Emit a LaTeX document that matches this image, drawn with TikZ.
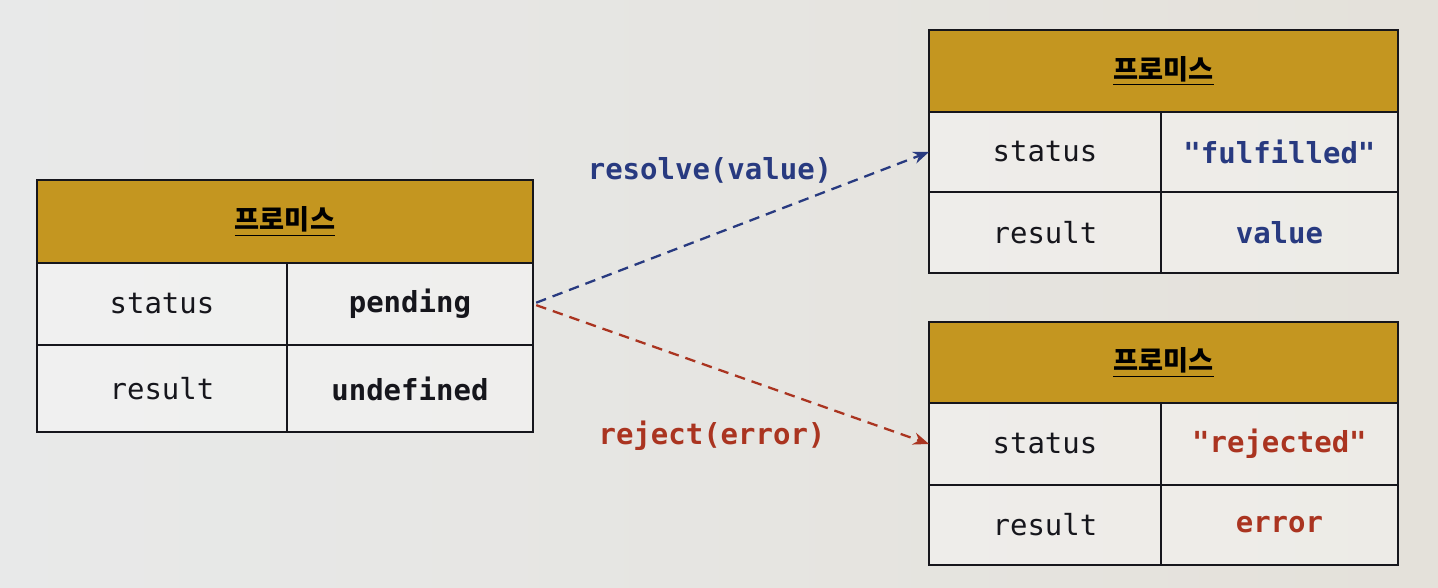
\documentclass[tikz,border=0pt]{standalone}
\usepackage{fontspec}
\setmonofont{DejaVu Sans Mono}
\newfontfamily\kofont{Noto Sans CJK KR}
\usetikzlibrary{arrows.meta, positioning}
\definecolor{paperL}{RGB}{232,233,233}
\definecolor{paperR}{RGB}{228,225,218}
\definecolor{mustard}{RGB}{196,150,32}
\definecolor{inkblue}{RGB}{40,58,128}
\definecolor{inkred}{RGB}{170,52,32}
\definecolor{ink}{RGB}{22,22,28}

\begin{document}
\begin{tikzpicture}[
  x=0.02cm, y=-0.02cm,
  node distance = 0pt,
  head/.style = {
    draw=ink, line width=1.6pt, fill=mustard, inner sep=0pt, outer sep=0pt,
    font=\kofont\bfseries\fontsize{15.5}{17}\selectfont
  },
  cell/.style = {
    draw=ink, line width=1.6pt, fill=white, fill opacity=0.35, text opacity=1,
    inner sep=0pt, outer sep=0pt, text=ink, font=\ttfamily\fontsize{16.5}{18}\selectfont
  },
  val/.style = { cell, font=\ttfamily\bfseries\fontsize{16.5}{18}\selectfont },
  lbl/.style = { font=\ttfamily\bfseries\fontsize{16.5}{18}\selectfont },
  arr/.style = { -{Stealth[length=9pt, width=7pt]}, line width=1.3pt, dash pattern=on 6pt off 4pt, shorten <=2pt }
]

% page
\shade[left color=paperL, right color=paperR] (0,0) rectangle (1438,588);
\useasboundingbox (0,0) rectangle (1438,588);

% pending promise
\node[head, minimum width=9.92cm, minimum height=1.66cm, anchor=north west] (ph) at (37,180) {\underline{프로미스}};
\node[cell, minimum width=5cm, minimum height=1.64cm, below right=0 of ph.south west] (ps) {status};
\node[val, minimum width=4.92cm, minimum height=1.64cm, right=0 of ps] (pv) {pending};
\node[cell, minimum width=5cm, minimum height=1.74cm, below=0 of ps] (pr) {result};
\node[val, minimum width=4.92cm, minimum height=1.74cm, right=0 of pr] (pu) {undefined};

% fulfilled promise
\node[head, minimum width=9.38cm, minimum height=1.64cm, anchor=north west] (fh) at (929,30) {\underline{프로미스}};
\node[cell, minimum width=4.64cm, minimum height=1.6cm, below right=0 of fh.south west] (fs) {status};
\node[val, minimum width=4.74cm, minimum height=1.6cm, right=0 of fs, text=inkblue] (fv) {"fulfilled"};
\node[cell, minimum width=4.64cm, minimum height=1.62cm, below=0 of fs] (fr) {result};
\node[val, minimum width=4.74cm, minimum height=1.62cm, right=0 of fr, text=inkblue] (fu) {value};

% rejected promise
\node[head, minimum width=9.38cm, minimum height=1.62cm, anchor=north west] (rh) at (929,322) {\underline{프로미스}};
\node[cell, minimum width=4.64cm, minimum height=1.64cm, below right=0 of rh.south west] (rs) {status};
\node[val, minimum width=4.74cm, minimum height=1.64cm, right=0 of rs, text=inkred] (rv) {"rejected"};
\node[cell, minimum width=4.64cm, minimum height=1.6cm, below=0 of rs] (rr) {result};
\node[val, minimum width=4.74cm, minimum height=1.6cm, right=0 of rr, text=inkred] (ru) {error};

% transitions
\node[lbl, text=inkblue] (reslbl) at (710,170) {resolve(value)};
\node[lbl, text=inkred] (rejlbl) at (712,436) {reject(error)};
\draw[arr, draw=inkblue] (pv.east) -- (fs.west);
\draw[arr, draw=inkred] (pv.east) -- (rs.west);

\end{tikzpicture}
\end{document}
